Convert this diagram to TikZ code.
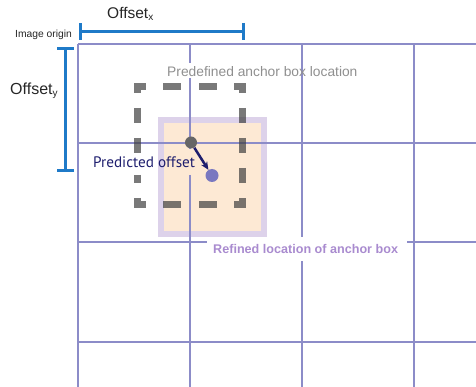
\documentclass[tikz,border=0pt]{standalone}
\usepackage{fontspec}
\setmainfont{Liberation Sans}
\newfontfamily\ptsans{PT Sans}
\usetikzlibrary{arrows.meta}
\definecolor{gridline}{HTML}{8C8CC8}
\definecolor{offblue}{HTML}{1F7AC8}
\definecolor{boxfill}{HTML}{FDE9D4}
\definecolor{boxedge}{HTML}{DDD2EA}
\definecolor{refinedtxt}{HTML}{A98BCF}
\definecolor{navy}{HTML}{1E1E6E}
\definecolor{dotgray}{HTML}{666666}
\definecolor{dotpurple}{HTML}{7A78C0}
\definecolor{predeftxt}{HTML}{8F8F8F}

\begin{document}
\begin{tikzpicture}[
  x=1pt, y=-1pt,
  gridln/.style={draw=gridline, line width=1.5pt},
  offbar/.style={draw=offblue, line width=3pt, {Bar[width=17pt]}-{Bar[width=17pt]}},
  dashpiece/.style={draw=black!75, line width=7pt, draw opacity=0.7},
  dot/.style={circle, inner sep=0pt, minimum size=12pt},
  lbl/.style={inner sep=0pt, anchor=base west}
]
\useasboundingbox (0,0) rectangle (476,387);

% refined box
\draw[draw=boxedge, fill=boxfill, line width=6pt] (161,120) rectangle (264,234);

% grid
\foreach \x in {78,414} \draw[gridln] (\x,44) -- (\x,387);
\foreach \y in {44,143,342} \draw[gridln] (78,\y) -- (476,\y);
\draw[gridln] (190,44) -- (190,63) (190,78) -- (190,149) (190,175) -- (190,387);
\draw[gridln] (302,44) -- (302,237) (302,261) -- (302,387);
\draw[gridln] (78,242) -- (207,242) (407,242) -- (476,242);

% predefined anchor box (dashed)
\draw[dashpiece] (137.5,93) -- (137.5,86.5) -- (146,86.5);
\draw[dashpiece] (234,86.5) -- (242.5,86.5) -- (242.5,93);
\draw[dashpiece] (137.5,198) -- (137.5,204.5) -- (146,204.5);
\draw[dashpiece] (234,204.5) -- (242.5,204.5) -- (242.5,198);
\foreach \a in {163,199} {
  \draw[dashpiece] (\a,86.5) -- (\a+18,86.5);
  \draw[dashpiece] (\a,204.5) -- (\a+18,204.5);
}
\foreach \b in {108,138} \draw[dashpiece] (137.5,\b) -- (137.5,\b+15);
\draw[dashpiece] (137.5,175) -- (137.5,183);
\foreach \b in {108,138,168} \draw[dashpiece] (242.5,\b) -- (242.5,\b+15);

% offsets
\coordinate (ox0) at (79,31.5);
\coordinate (ox1) at (245,31.5);
\coordinate (oy0) at (65.5,47);
\coordinate (oy1) at (65.5,172);
\draw[offbar] (ox0) -- (ox1);
\draw[offbar] (oy0) -- (oy1);

% labels
\node[lbl, font=\fontsize{15.5}{16}\selectfont, text=black!85] (offx) at (107,19) {Offset{\fontsize{10}{10}\selectfont\raisebox{-2pt}{x}}};
\node[lbl, font=\fontsize{16}{17}\selectfont, text=black!85] (offy) at (10,95) {Offset{\fontsize{10}{10}\selectfont\raisebox{-2pt}{y}}};
\node[lbl, font=\fontsize{10.3}{11}\selectfont, text=black!85] (origin) at (15,38) {Image origin};
\node[lbl, font=\fontsize{13.8}{14}\selectfont, text=predeftxt] (predef) at (167,77) {Predefined anchor box location};
\node[lbl, font=\ptsans\fontsize{15.2}{16}\selectfont, text=navy] (predoff) at (93,168) {Predicted offset};
\node[lbl, font=\bfseries\fontsize{12.6}{13}\selectfont, text=refinedtxt] (refined) at (213,254) {Refined location of anchor box};

% centres and offset
\node[dot, fill=dotgray] (anchorpt) at (191,142.5) {};
\node[dot, fill=dotpurple, minimum size=13pt] (refinedpt) at (212,175.5) {};
\draw[navy, line width=2.5pt, -{Stealth[length=8pt,width=7pt]}] (anchorpt) -- (refinedpt);
\end{tikzpicture}
\end{document}
